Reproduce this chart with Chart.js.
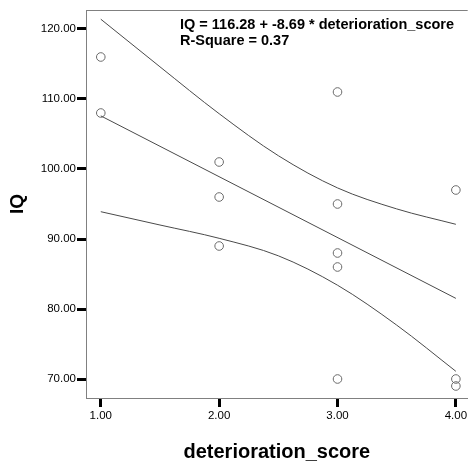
<!DOCTYPE html>
<html>
<head>
<meta charset="utf-8">
<script src="https://cdn.jsdelivr.net/npm/chart.js@4"></script>
<style>
  html, body { margin: 0; padding: 0; background: #ffffff; }
  #wrap { width: 473px; height: 463px; }
</style>
</head>
<body>
<div id="wrap"><canvas id="scatterChart" width="473" height="463"></canvas></div>
<script>
// observed cases (deterioration_score, IQ)
const scores = [1, 1, 2, 2, 2, 3, 3, 3, 3, 3, 4, 4, 4];
const iqValues = [116, 108, 101, 96, 89, 111, 95, 88, 86, 70, 97, 70, 69];

// fitted line IQ = 116.28 + -8.69 * deterioration_score
const fitX = [1, 4];
const fitY = [107.59, 81.52];

// 95% mean confidence bands
const bandX = [1, 1.5, 2, 2.5, 3, 3.5, 4];
const upperBand = [121.4, 114.6, 107.9, 101.9, 97.3, 94.3, 92.1];
const lowerBand = [93.9, 92.0, 90.1, 87.6, 83.4, 77.7, 71.1];

const xTicks = [1, 2, 3, 4];
const yTicks = [70, 80, 90, 100, 110, 120];

const equationText = ['IQ = 116.28 + -8.69 * deterioration_score', 'R-Square = 0.37'];

const FONT = "'Liberation Sans', Arial, sans-serif";

function pairs(xs, ys) {
    return xs.map((x, i) => ({ x: x, y: ys[i] }));
}

const lineStyle = {
    type: 'line',
    borderColor: '#4a4a4a',
    borderWidth: 1,
    pointRadius: 0,
    fill: false,
    cubicInterpolationMode: 'monotone'
};

// top frame line + equation text
const framePlugin = {
    id: 'frame',
    afterDraw(chart) {
        const ctx = chart.ctx;
        const area = chart.chartArea;
        ctx.save();
        ctx.strokeStyle = '#808080';
        ctx.lineWidth = 1;
        ctx.beginPath();
        ctx.moveTo(area.left, area.top + 0.5);
        ctx.lineTo(area.right, area.top + 0.5);
        ctx.stroke();

        ctx.fillStyle = '#000000';
        ctx.font = 'bold 14.5px ' + FONT;
        ctx.textBaseline = 'alphabetic';
        ctx.textAlign = 'left';
        ctx.fillText(equationText[0], 180, 29);
        ctx.fillText(equationText[1], 180, 45);
        ctx.restore();
    }
};

const ctx = document.getElementById('scatterChart').getContext('2d');
new Chart(ctx, {
    data: {
        datasets: [
            Object.assign({}, lineStyle, { data: pairs(bandX, upperBand) }),
            Object.assign({}, lineStyle, { data: pairs(fitX, fitY), cubicInterpolationMode: 'default', tension: 0 }),
            Object.assign({}, lineStyle, { data: pairs(bandX, lowerBand) }),
            {
                type: 'scatter',
                data: pairs(scores, iqValues),
                pointStyle: 'circle',
                pointRadius: 4.3,
                pointBorderWidth: 1,
                pointBorderColor: '#6a6a6a',
                pointBackgroundColor: 'rgba(255,255,255,0)'
            }
        ]
    },
    options: {
        responsive: false,
        animation: false,
        layout: { padding: { top: 10, left: 0, right: 0, bottom: 0 } },
        plugins: {
            legend: { display: false },
            tooltip: { enabled: false }
        },
        scales: {
            x: {
                type: 'linear',
                min: 0.875,
                max: 4.1,
                afterFit: function(scale) { scale.height = 65; },
                afterBuildTicks: function(scale) {
                    scale.ticks = xTicks.map(v => ({ value: v }));
                },
                ticks: {
                    color: '#000000',
                    padding: 2,
                    font: { family: FONT, size: 11.5 },
                    callback: v => Number(v).toFixed(2)
                },
                grid: {
                    drawOnChartArea: false,
                    tickLength: 9,
                    tickWidth: 3,
                    tickColor: '#000000'
                },
                border: { display: true, color: '#808080', width: 1 },
                title: {
                    display: true,
                    text: 'deterioration_score',
                    color: '#000000',
                    font: { family: FONT, size: 20, weight: 'bold' },
                    padding: { top: 0, bottom: -1 }
                }
            },
            y: {
                type: 'linear',
                min: 67.286,
                max: 122.714,
                afterFit: function(scale) { scale.width = 86; },
                afterBuildTicks: function(scale) {
                    scale.ticks = yTicks.map(v => ({ value: v }));
                },
                ticks: {
                    color: '#000000',
                    padding: 1,
                    font: { family: FONT, size: 11.5 },
                    callback: v => Number(v).toFixed(2)
                },
                grid: {
                    drawOnChartArea: false,
                    tickLength: 9,
                    tickWidth: 3,
                    tickColor: '#000000'
                },
                border: { display: true, color: '#808080', width: 1 },
                title: {
                    display: true,
                    text: 'IQ',
                    color: '#000000',
                    font: { family: FONT, size: 19, weight: 'bold' },
                    padding: { top: 6, bottom: 0 }
                }
            }
        }
    },
    plugins: [framePlugin]
});
</script>
</body>
</html>
